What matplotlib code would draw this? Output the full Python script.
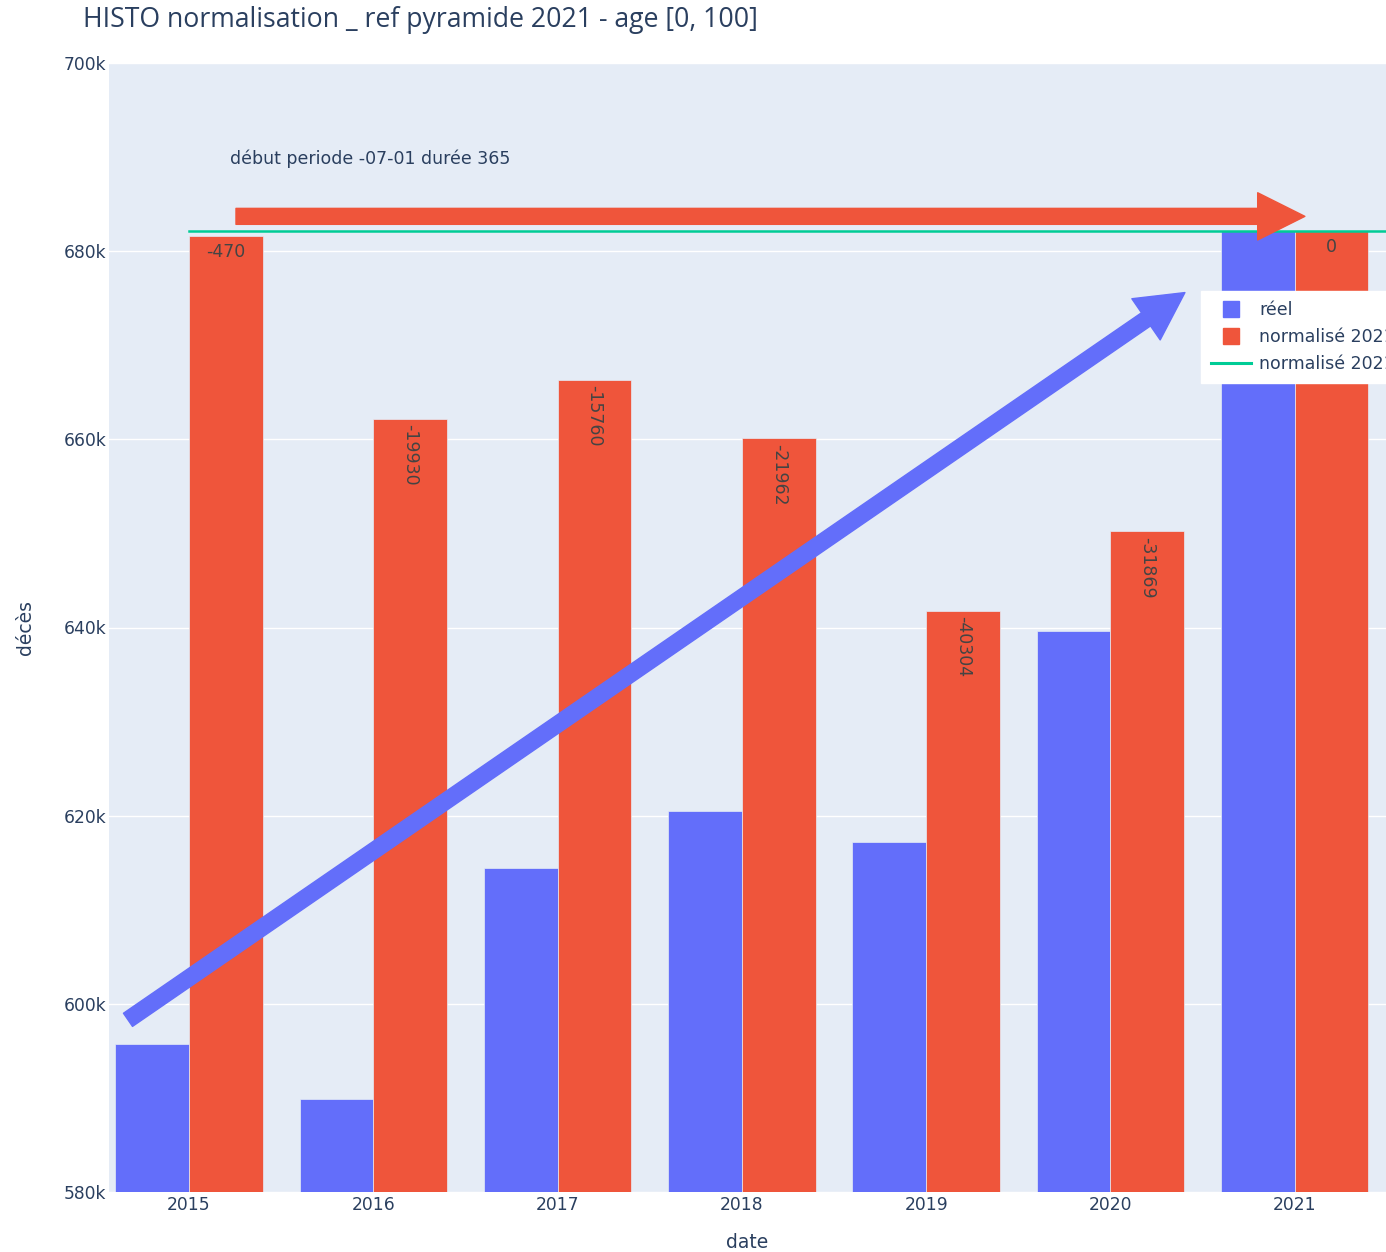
import matplotlib
matplotlib.use("Agg")
import matplotlib.pyplot as plt
from matplotlib.patches import FancyArrowPatch
from matplotlib.lines import Line2D
from matplotlib.ticker import FuncFormatter

# --- data ---
annees = ["2015", "2016", "2017", "2018", "2019", "2020", "2021"]
reel = [595700, 589900, 614400, 620500, 617200, 639600, 682100]
ref_2021 = 682100
ecart = [-470, -19930, -15760, -21962, -40304, -31869, 0]
normalise = [ref_2021 + e for e in ecart]

BLUE = "#636EFA"
RED = "#EF553B"
GREEN = "#00CC96"
FONT_COL = "#2a3f5f"

plt.rcParams["font.family"] = ["DejaVu Sans"]


def run_histo():
    fig = plt.figure(figsize=(13.86, 12.52), dpi=100)
    W, H = 1386, 1252
    ax = fig.add_axes([109 / W, (H - 1192) / H, (W - 109) / W, (1192 - 63) / H])
    ax.set_facecolor("#E5ECF6")

    x = list(range(len(annees)))
    w = 0.4
    ax.bar([i - w / 2 for i in x], reel, width=w, color=BLUE,
           edgecolor="#E5ECF6", linewidth=0.5, label="réel", zorder=2)
    ax.bar([i + w / 2 for i in x], normalise, width=w, color=RED,
           edgecolor="#E5ECF6", linewidth=0.5, label="normalisé 2021", zorder=2)

    # bar labels (plotly "auto" position: horizontal if it fits, else rotated)
    for i, (v, e) in enumerate(zip(normalise, ecart)):
        txt = str(e)
        if len(txt) <= 4:
            ax.annotate(txt, (i + w / 2, v), xytext=(0, -5), textcoords="offset points",
                        ha="center", va="top", fontsize=12.5, color="#444444", zorder=4)
        else:
            ax.annotate(txt, (i + w / 2, v), xytext=(0, -4), textcoords="offset points",
                        ha="center", va="top", rotation=-90, fontsize=12.5,
                        color="#444444", zorder=4)

    # reference line
    ax.plot([0, 7], [ref_2021, ref_2021], color=GREEN, linewidth=1.8, zorder=3)

    ax.set_xlim(-0.434, 6.495)
    ax.set_ylim(580000, 700000)
    ax.set_yticks(range(580000, 700001, 20000))
    ax.yaxis.set_major_formatter(FuncFormatter(lambda v, p: f"{int(v / 1000)}k"))
    ax.set_xticks(x)
    ax.set_xticklabels(annees)
    ax.grid(axis="y", color="white", linewidth=1, zorder=0)
    ax.set_axisbelow(True)
    for s in ax.spines.values():
        s.set_visible(False)
    ax.tick_params(length=0, labelsize=12.3, labelcolor=FONT_COL)
    ax.tick_params(axis="x", pad=3)
    ax.tick_params(axis="y", pad=2)
    ax.set_xlabel("date", fontsize=13.5, color=FONT_COL, va="center")
    ax.xaxis.set_label_coords(0.5, -(1243 - 1192) / 1129)
    ax.set_ylabel("décès", fontsize=13.5, color=FONT_COL, va="center")
    ax.yaxis.set_label_coords(-(109 - 25) / 1277, 0.5)

    ax.text(0.222, 689800, "début periode -07-01 durée 365", fontsize=12.5,
            color=FONT_COL, ha="left", va="center", zorder=5)

    # hand-drawn arrows
    red_arrow = FancyArrowPatch((0.255, 683700), (6.055, 683700),
                                arrowstyle="simple,head_width=34,head_length=34,tail_width=11.5",
                                mutation_scale=1, color=RED, shrinkA=0, shrinkB=0, zorder=6)
    blue_arrow = FancyArrowPatch((-0.331, 598300), (5.404, 675600),
                                 arrowstyle="simple,head_width=36,head_length=34,tail_width=11.5",
                                 mutation_scale=1, color=BLUE, shrinkA=0, shrinkB=0, zorder=6)
    ax.add_patch(red_arrow)
    ax.add_patch(blue_arrow)

    fig.text(83 / W, 1 - 20 / H, "HISTO normalisation _ ref pyramide 2021 - age [0, 100]",
             fontsize=19.2, color=FONT_COL, ha="left", va="center", family="Open Sans")

    handles = [Line2D([], [], marker="s", linestyle="none", markersize=11, color=BLUE),
               Line2D([], [], marker="s", linestyle="none", markersize=11, color=RED),
               Line2D([], [], color=GREEN, linewidth=2.2)]
    leg = fig.legend(handles, ["réel", "normalisé 2021", "normalisé 2021"],
                     loc="upper left", bbox_to_anchor=(1201 / W, 1 - 291 / H),
                     frameon=True, fancybox=False, fontsize=12.5, labelcolor=FONT_COL,
                     handlelength=2.3, handletextpad=0.45,
                     labelspacing=0.5, borderpad=0.6, borderaxespad=0)
    leg.get_frame().set_facecolor("white")
    leg.get_frame().set_edgecolor("white")
    leg.get_frame().set_alpha(1)
    leg.set_zorder(10)

    fig.savefig("out.png", dpi=100, facecolor="white")


if __name__ == "__main__":
    run_histo()
